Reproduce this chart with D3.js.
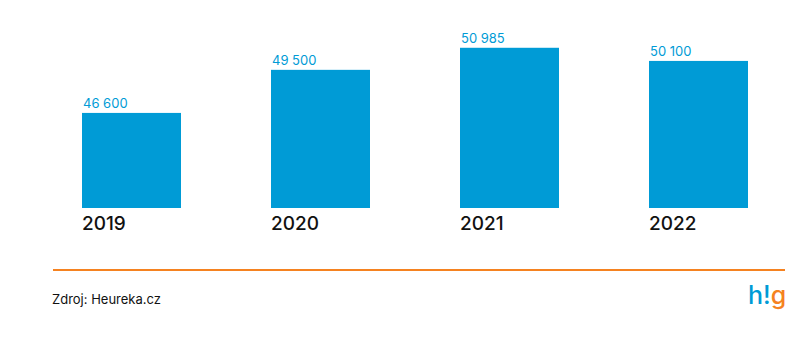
<!DOCTYPE html>
<html>
<head>
<meta charset="utf-8">
<script src="https://cdn.jsdelivr.net/npm/d3@7/dist/d3.min.js"></script>
<style>
  html, body { margin: 0; padding: 0; background: #fff; }
  svg { display: block; font-family: Inter, Lato, sans-serif; }
</style>
</head>
<body>
<svg id="chart" width="800" height="347"></svg>
<script>
// Počet e-shopů v ČR podle let
const years = ["2019", "2020", "2021", "2022"];
const shops = [46600, 49500, 50985, 50100];
const valueLabels = ["46 600", "49 500", "50 985", "50 100"];

const svg = d3.select("#chart");
const blue = "#009bd6";
const orange = "#f58220";

const x = d3.scaleBand()
  .domain(years)
  .range([82, 748])
  .paddingInner(90 / 189)
  .paddingOuter(0);

const y = d3.scaleLinear()
  .domain([40200, 52000])
  .range([208, 32.7]);

const g = svg.append("g");

g.selectAll("rect.bar")
  .data(years)
  .join("rect")
  .attr("class", "bar")
  .attr("x", d => x(d))
  .attr("width", x.bandwidth())
  .attr("y", (d, i) => y(shops[i]))
  .attr("height", (d, i) => y.range()[0] - y(shops[i]))
  .attr("fill", blue);

g.selectAll("text.value")
  .data(years)
  .join("text")
  .attr("class", "value")
  .attr("x", d => x(d) + 1)
  .attr("y", (d, i) => y(shops[i]) - 5)
  .attr("fill", blue)
  .attr("font-size", 13)
  .attr("font-weight", 400)
  .text((d, i) => valueLabels[i]);

// Osa let pod sloupci
const axis = d3.axisBottom(x).tickSize(0).tickPadding(0);
const ax = svg.append("g")
  .attr("transform", "translate(0,208)")
  .call(axis);
ax.select(".domain").remove();
ax.selectAll(".tick text")
  .attr("text-anchor", "start")
  .attr("x", -x.bandwidth() / 2)
  .attr("dy", 0)
  .attr("y", 22)
  .attr("fill", "#111")
  .attr("font-family", "Inter, Lato, sans-serif")
  .attr("font-size", 19)
  .attr("font-weight", 500);

// Oddělovací čára
svg.append("line")
  .attr("x1", 53).attr("x2", 785)
  .attr("y1", 270).attr("y2", 270)
  .attr("stroke", orange)
  .attr("stroke-width", 2);

svg.append("text")
  .attr("x", 52).attr("y", 304)
  .attr("fill", "#111")
  .attr("font-size", 13)
  .text("Zdroj: Heureka.cz");

// Logo
const logo = svg.append("text")
  .attr("x", 748).attr("y", 304)
  .attr("font-size", 25)
  .attr("font-weight", 500)
  .attr("letter-spacing", 0);
logo.append("tspan").attr("fill", blue).text("h");
logo.append("tspan").attr("fill", blue).text("!");
logo.append("tspan").attr("fill", orange).text("g");
</script>
</body>
</html>
